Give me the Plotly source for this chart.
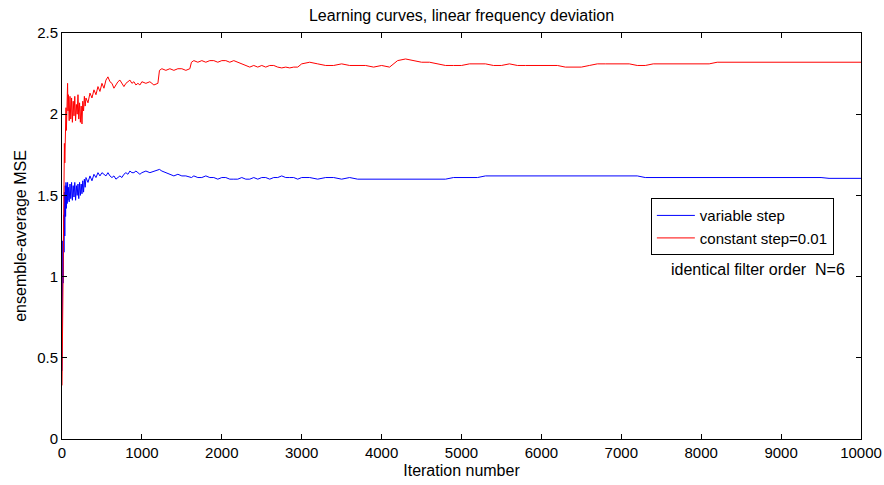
import plotly.graph_objects as go

iterations = [
    0, 5, 10, 15, 20, 25, 30, 35, 40, 45, 50, 55, 60, 65, 70, 75, 80,
    90, 100, 110, 120, 130, 140, 150, 160, 170, 180, 190, 200, 210, 220, 230, 240, 250, 260, 270, 280, 290, 300,
    325, 350, 375, 400, 425, 450, 475, 500, 525, 550, 575, 600, 625, 650, 675, 700, 725, 750, 775, 800,
    825, 850, 875, 900, 925, 950, 975, 1000,
    1050, 1100, 1150, 1200, 1220, 1250, 1300, 1350, 1400, 1450, 1500, 1550, 1600, 1620,
    1650, 1700, 1750, 1800, 1850, 1900, 1950, 2000, 2050, 2100, 2150, 2200, 2250, 2300, 2350, 2400,
    2450, 2500, 2550, 2600, 2650, 2700, 2750, 2800, 2850, 2900, 2950, 3000,
    3100, 3200, 3300, 3400, 3500, 3600, 3700, 3800, 3900,
    4000, 4100, 4200, 4300, 4400, 4500, 4600, 4700, 4800, 4900,
    5000, 5100, 5200, 5300, 5400, 5500, 5600, 5700, 5800, 5900,
    6000, 6100, 6200, 6300, 6400, 6500, 6600, 6700, 6800, 6900,
    7000, 7100, 7200, 7300, 7400, 7500, 7600, 7700, 7800, 7900,
    8000, 8100, 8200, 8300, 8400, 8500, 8600, 8700, 8800, 8900,
    9000, 9100, 9200, 9300, 9400, 9500, 9600, 9700, 9800, 9900, 10000,
]

mse_variable_step = [
    0.42, 0.88, 1.22, 0.96, 1.38, 1.15, 1.52, 1.25, 1.56, 1.37, 1.58, 1.42, 1.56, 1.45, 1.58, 1.47, 1.55,
    1.46, 1.57, 1.48, 1.58, 1.47, 1.56, 1.49, 1.58, 1.47, 1.56, 1.50, 1.57, 1.48, 1.58, 1.50, 1.57, 1.51, 1.59, 1.52, 1.60, 1.55, 1.61,
    1.58, 1.62, 1.59, 1.63, 1.61, 1.64, 1.62, 1.64, 1.63, 1.62, 1.64, 1.62, 1.61, 1.62, 1.60, 1.61, 1.62, 1.61, 1.63, 1.64,
    1.63, 1.65, 1.64, 1.64, 1.65, 1.64, 1.63, 1.64,
    1.65, 1.64, 1.65, 1.66, 1.66, 1.65, 1.64, 1.63, 1.62, 1.63, 1.62, 1.62, 1.61, 1.61,
    1.62, 1.61, 1.61, 1.62, 1.61, 1.61, 1.60, 1.61, 1.61, 1.60, 1.60, 1.60, 1.61, 1.60, 1.60, 1.61,
    1.60, 1.61, 1.61, 1.60, 1.61, 1.61, 1.62, 1.61, 1.61, 1.61, 1.60, 1.61,
    1.61, 1.60, 1.61, 1.61, 1.60, 1.61, 1.60, 1.60, 1.60,
    1.60, 1.60, 1.60, 1.60, 1.60, 1.60, 1.60, 1.60, 1.60, 1.61,
    1.61, 1.61, 1.61, 1.62, 1.62, 1.62, 1.62, 1.62, 1.62, 1.62,
    1.62, 1.62, 1.62, 1.62, 1.62, 1.62, 1.62, 1.62, 1.62, 1.62,
    1.62, 1.62, 1.62, 1.61, 1.61, 1.61, 1.61, 1.61, 1.61, 1.61,
    1.61, 1.61, 1.61, 1.61, 1.61, 1.61, 1.61, 1.61, 1.61, 1.61,
    1.61, 1.61, 1.61, 1.61, 1.61, 1.61, 1.605, 1.605, 1.605, 1.605, 1.605,
]

mse_constant_step = [
    0.33, 0.62, 1.05, 1.42, 1.68, 1.55, 1.82, 1.70, 1.96, 1.80, 2.04, 1.90, 2.10, 1.98, 2.19, 2.02, 2.12,
    1.96, 2.11, 1.97, 2.10, 1.95, 2.08, 1.99, 2.11, 1.96, 2.06, 2.00, 2.12, 1.97, 2.07, 1.95, 2.05, 1.94, 2.08, 2.02, 2.11, 2.05, 2.10,
    2.07, 2.13, 2.10, 2.15, 2.12, 2.17, 2.14, 2.19, 2.16, 2.21, 2.23, 2.20, 2.19, 2.16, 2.18, 2.20, 2.21, 2.19, 2.17, 2.19,
    2.20, 2.21, 2.19, 2.20, 2.18, 2.19, 2.18, 2.20,
    2.19, 2.20, 2.18, 2.19, 2.27, 2.28, 2.27, 2.28, 2.27, 2.28, 2.28, 2.27, 2.28, 2.32,
    2.33, 2.32, 2.33, 2.32, 2.33, 2.33, 2.32, 2.33, 2.33, 2.32, 2.33, 2.32, 2.31, 2.30, 2.29, 2.30,
    2.29, 2.30, 2.29, 2.30, 2.30, 2.29, 2.285, 2.29, 2.285, 2.29, 2.29, 2.31,
    2.32, 2.31, 2.30, 2.30, 2.31, 2.30, 2.30, 2.30, 2.29,
    2.30, 2.29, 2.33, 2.34, 2.33, 2.32, 2.32, 2.31, 2.30, 2.30,
    2.30, 2.31, 2.31, 2.31, 2.30, 2.30, 2.31, 2.30, 2.30, 2.30,
    2.30, 2.30, 2.30, 2.29, 2.29, 2.29, 2.30, 2.31, 2.31, 2.31,
    2.31, 2.31, 2.30, 2.30, 2.31, 2.31, 2.31, 2.31, 2.31, 2.31,
    2.31, 2.31, 2.32, 2.32, 2.32, 2.32, 2.32, 2.32, 2.32, 2.32,
    2.32, 2.32, 2.32, 2.32, 2.32, 2.32, 2.32, 2.32, 2.32, 2.32, 2.32,
]

x_ticks = [0, 1000, 2000, 3000, 4000, 5000, 6000, 7000, 8000, 9000, 10000]
y_ticks = [0, 0.5, 1, 1.5, 2, 2.5]
y_tick_labels = ["0", "0.5", "1", "1.5", "2", "2.5"]

FONT = "Liberation Sans, Arial, sans-serif"

fig = go.Figure()
fig.add_trace(go.Scatter(x=iterations, y=mse_variable_step, mode="lines",
                         name="variable step", line=dict(color="#0000ff", width=1)))
fig.add_trace(go.Scatter(x=iterations, y=mse_constant_step, mode="lines",
                         name="constant step=0.01", line=dict(color="#ff0000", width=1)))

axis_common = dict(showline=True, linecolor="black", linewidth=1, mirror="ticks",
                   ticks="inside", ticklen=5, tickcolor="black", showgrid=False,
                   zeroline=False, automargin=False,
                   tickfont=dict(family=FONT, size=15, color="black"))

fig.update_layout(
    width=884, height=485,
    margin=dict(l=62, r=23, t=33, b=46),
    paper_bgcolor="white", plot_bgcolor="white",
    font=dict(family=FONT, size=16, color="black"),
    title=dict(text="Learning curves, linear frequency deviation", x=0.5, xref="paper",
               xanchor="center", y=1 - 15 / 485, yref="container", yanchor="middle",
               font=dict(family=FONT, size=16, color="black")),
    xaxis=dict(range=[0, 10000], tickvals=x_ticks, ticktext=[str(v) for v in x_ticks],
               title=dict(text="Iteration number", standoff=4, font=dict(size=16)), **axis_common),
    yaxis=dict(range=[0, 2.5], tickvals=y_ticks, ticktext=y_tick_labels,
               title=dict(text="ensemble-average MSE", standoff=6, font=dict(size=16)), **axis_common),
    legend=dict(x=0.737, y=0.523, xanchor="left", yanchor="middle", bgcolor="white",
                bordercolor="black", borderwidth=1, font=dict(family=FONT, size=15),
                tracegroupgap=0, itemwidth=38),
    showlegend=True,
    annotations=[dict(text="identical filter order\u00a0 N=6", x=0.871, y=0.418,
                      xref="paper", yref="paper", xanchor="center", yanchor="middle",
                      showarrow=False, font=dict(family=FONT, size=16, color="black"))],
)

fig.write_html("out.html")
